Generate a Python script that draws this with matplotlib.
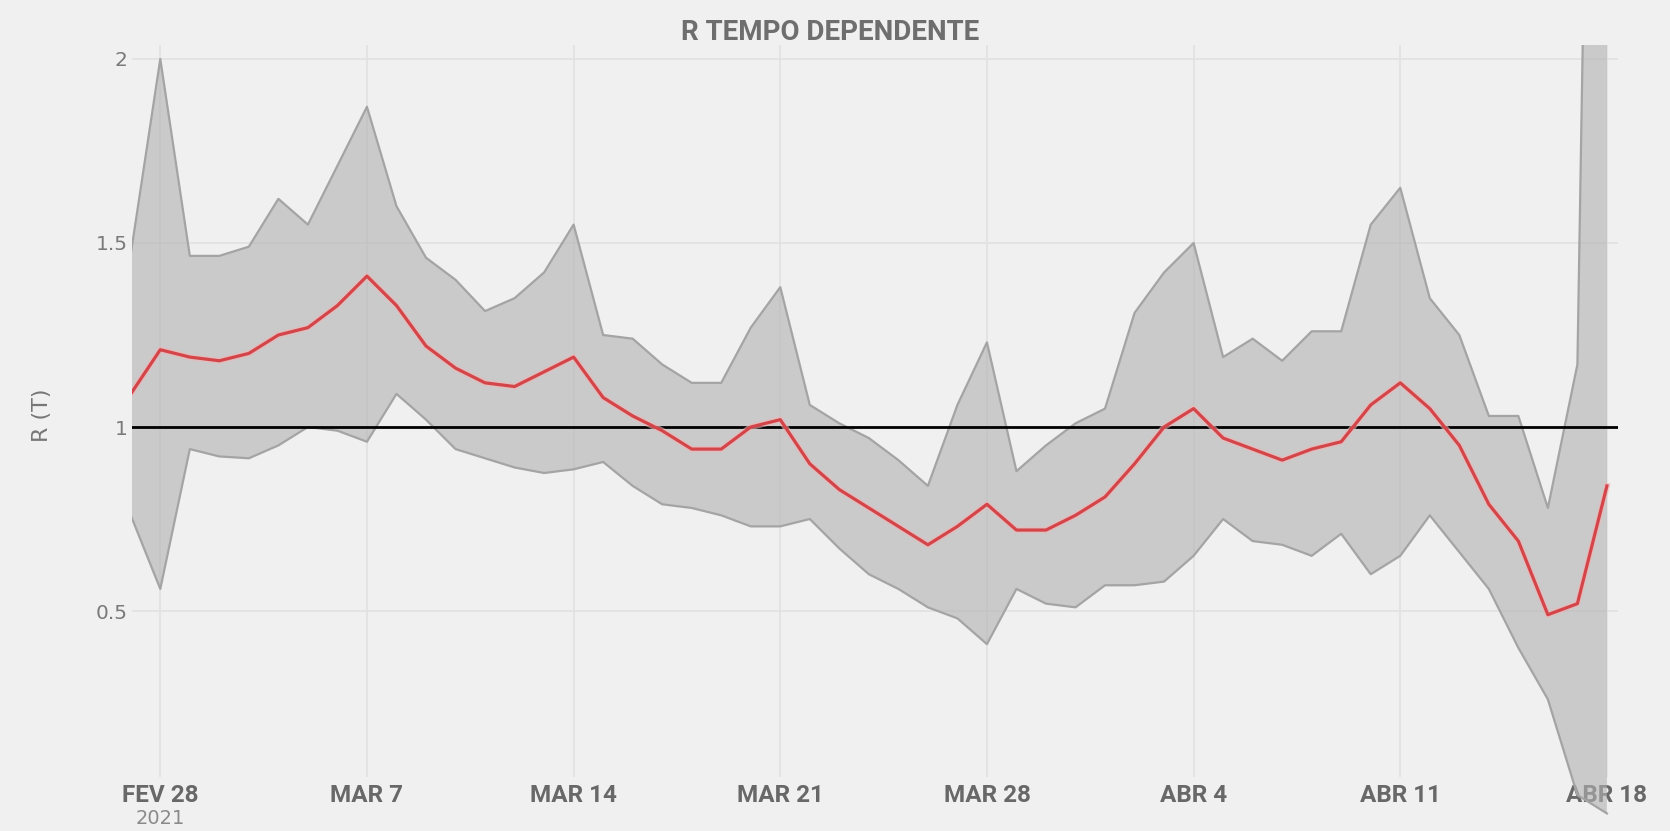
import numpy as np
import pandas as pd
import matplotlib
matplotlib.use('Agg')
import matplotlib.pyplot as plt
from matplotlib.patches import Rectangle

# dias (27 fev -> 18 abr 2021)
dates = pd.date_range('2021-02-27', '2021-04-18', freq='D')

r_mean = [1.09, 1.21, 1.19, 1.18, 1.20, 1.25, 1.27, 1.33, 1.41, 1.33,
          1.22, 1.16, 1.12, 1.11, 1.15, 1.19, 1.08, 1.03, 0.99, 0.94,
          0.94, 1.00, 1.02, 0.90, 0.83, 0.78, 0.73, 0.68, 0.73, 0.79,
          0.72, 0.72, 0.76, 0.81, 0.90, 1.00, 1.05, 0.97, 0.94, 0.91,
          0.94, 0.96, 1.06, 1.12, 1.05, 0.95, 0.79, 0.69, 0.49, 0.52, 0.84]

r_upper = [1.47, 2.00, 1.465, 1.465, 1.49, 1.62, 1.55, 1.71, 1.87, 1.60,
           1.46, 1.40, 1.315, 1.35, 1.42, 1.55, 1.25, 1.24, 1.17, 1.12,
           1.12, 1.27, 1.38, 1.06, 1.01, 0.97, 0.91, 0.84, 1.06, 1.23,
           0.88, 0.95, 1.01, 1.05, 1.31, 1.42, 1.50, 1.19, 1.24, 1.18,
           1.26, 1.26, 1.55, 1.65, 1.35, 1.25, 1.03, 1.03, 0.78, 1.17, 6.0]

r_lower = [0.76, 0.56, 0.94, 0.92, 0.915, 0.95, 1.00, 0.99, 0.96, 1.09,
           1.02, 0.94, 0.915, 0.89, 0.875, 0.885, 0.905, 0.84, 0.79, 0.78,
           0.76, 0.73, 0.73, 0.75, 0.67, 0.60, 0.56, 0.51, 0.48, 0.41,
           0.56, 0.52, 0.51, 0.57, 0.57, 0.58, 0.65, 0.75, 0.69, 0.68,
           0.65, 0.71, 0.60, 0.65, 0.76, 0.66, 0.56, 0.40, 0.26, 0.00, -0.05]

tick_dates = pd.to_datetime(['2021-02-28', '2021-03-07', '2021-03-14', '2021-03-21',
                             '2021-03-28', '2021-04-04', '2021-04-11', '2021-04-18'])
tick_labels = ['FEV 28', 'MAR 7', 'MAR 14', 'MAR 21', 'MAR 28', 'ABR 4', 'ABR 11', 'ABR 18']
y_ticks = [0.5, 1, 1.5, 2]
y_tick_labels = ['0.5', '1', '1.5', '2']

bg = '#f0f0f0'
fig = plt.figure(figsize=(16.7, 8.31), dpi=100, facecolor=bg)
W, H = 1670, 831
ax = fig.add_axes([132/W, (H-777)/H, (1618-132)/W, (777-45)/H])
ax.set_facecolor(bg)

# banda de confianca (deixa passar um pouco abaixo do eixo, como no original)
clip = Rectangle((0, -0.07), 1, 1.07, transform=ax.transAxes)
band = ax.fill_between(dates, r_lower, r_upper, facecolor='#b2b2b2', alpha=0.6,
                       edgecolor='none', zorder=2)
band.set_clip_path(clip)
l1, = ax.plot(dates, r_upper, color='#a4a4a4', lw=1.6, zorder=3)
l2, = ax.plot(dates, r_lower, color='#a4a4a4', lw=1.6, zorder=3)
l1.set_clip_path(clip)
l2.set_clip_path(clip)

ax.axhline(1, color='black', lw=2, zorder=4)
ax.plot(dates, r_mean, color='#f2b5b5', lw=4.5, zorder=5, alpha=0.6)
ax.plot(dates, r_mean, color='#d4454a', lw=2.3, zorder=6)

ax.set_xlim(dates[0] + pd.Timedelta(hours=1), dates[-1] + pd.Timedelta(hours=9))
ax.set_ylim(0.049, 2.038)

ax.set_xticks(tick_dates, tick_labels)
ax.set_yticks(y_ticks, y_tick_labels)
for lab in ax.get_xticklabels():
    lab.set_fontfamily('Roboto')
    lab.set_fontweight('bold')
    lab.set_fontsize(17.5)
    lab.set_color('#686868')
for lab in ax.get_yticklabels():
    lab.set_fontfamily('DejaVu Sans')
    lab.set_fontsize(14.5)
    lab.set_color('#7a7a7a')
ax.tick_params(axis='x', length=0, pad=5)
ax.tick_params(axis='y', length=0, pad=3)

ax.grid(True, color='#e1e1e1', lw=1.2)
ax.set_axisbelow(True)
for s in ax.spines.values():
    s.set_visible(False)

fig.text(0.497, 1-32/H, 'R TEMPO DEPENDENTE', ha='center', va='center',
         fontfamily='Roboto', fontweight='bold', fontsize=20, color='#6e6e6e')
fig.text(42/W, 1-415/H, 'R (T)', rotation=90, ha='center', va='center',
         fontsize=16, color='#777777')
fig.text(160/W, 1-819/H, '2021', ha='center', va='center',
         fontsize=14, color='#8a8a8a')

fig.savefig('out.png', dpi=100, facecolor=bg)
